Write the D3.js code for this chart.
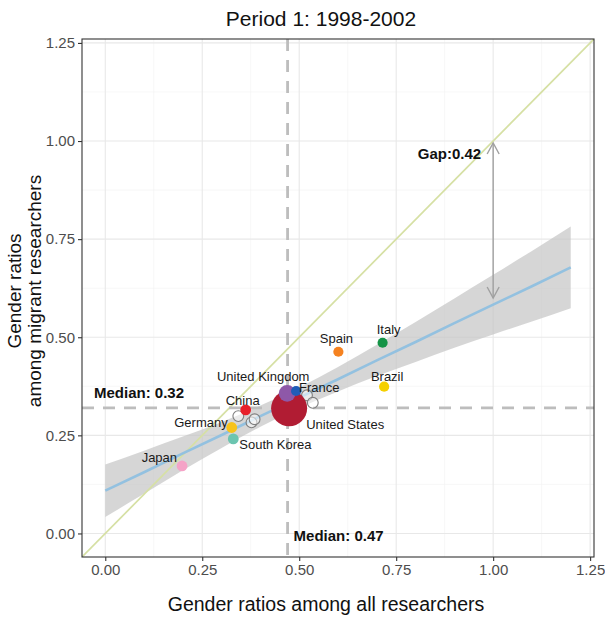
<!DOCTYPE html>
<html><head><meta charset="utf-8">
<script src="https://cdn.jsdelivr.net/npm/d3@7"></script>
<style>body{margin:0;background:#fff}svg{display:block}</style>
</head><body>
<svg id="chart" width="605" height="619"></svg>
<script>
// ---------- data ----------
const countries   = ["Japan","South Korea","Germany","China","United States","United Kingdom","France","Spain","Italy","Brazil"];
const ratioAll    = [0.198, 0.330, 0.326, 0.362, 0.474, 0.469, 0.492, 0.601, 0.715, 0.719];
const ratioMigr   = [0.172, 0.241, 0.270, 0.315, 0.319, 0.357, 0.363, 0.463, 0.486, 0.374];
const researchers = [9, 9, 9, 9, 100, 22, 8, 8, 8, 8];
const colors      = ["#f5a3c7","#6cc5b0","#f8c31a","#e8202a","#b11c33","#8e58a8","#1f5cb8","#f58220","#159447","#f5d000"];
// unlabelled countries (hollow)
const otherAll    = [0.343, 0.377, 0.385, 0.520, 0.535];
const otherMigr   = [0.299, 0.283, 0.291, 0.352, 0.333];
const otherSize   = [9, 9, 9, 9, 9];
// fitted line and 95% band
const fitX     = [0, 0.1, 0.2, 0.3, 0.4, 0.5, 0.6, 0.7, 0.8, 0.9, 1.0, 1.1, 1.2];
const fitY     = [0.109, 0.156, 0.204, 0.251, 0.299, 0.346, 0.393, 0.441, 0.488, 0.536, 0.583, 0.630, 0.678];
const fitLower = [0.042, 0.101, 0.161, 0.218, 0.272, 0.320, 0.362, 0.401, 0.437, 0.473, 0.507, 0.540, 0.574];
const fitUpper = [0.176, 0.211, 0.247, 0.284, 0.326, 0.372, 0.424, 0.481, 0.539, 0.599, 0.659, 0.720, 0.782];
const medianAll  = 0.47;
const medianMigr = 0.32;
const gapX = 1.0, gapTop = 0.995, gapBottom = 0.60, gapValue = 0.42;
const ticks = [0, 0.25, 0.5, 0.75, 1.0, 1.25];
const tickLabels = ["0.00","0.25","0.50","0.75","1.00","1.25"];
const minorTicks = [0.125, 0.375, 0.625, 0.875, 1.125];
const title = "Period 1: 1998-2002";
const xTitle = "Gender ratios among all researchers";
const yTitle = ["Gender ratios", "among migrant researchers"];

// ---------- label placement (style) ----------
const labelPos = {
  "Japan":[ "end",-5,-4], "South Korea":["start",6,10], "Germany":["end",-4,-1],
  "China":["middle",-3,-5], "United Kingdom":["middle",-24,-12], "France":["start",3,1],
  "United States":["start",17,21], "Spain":["middle",-2,-9], "Italy":["middle",6,-9],
  "Brazil":["middle",3,-6]
};

const FONT = "'Liberation Sans', Arial, sans-serif";
const svg = d3.select("#chart").style("font-family", FONT);
const L = 82, R = 594, T = 39, B = 557;
const x = d3.scaleLinear().domain([-0.06, 1.26]).range([L, R]);
const y = d3.scaleLinear().domain([-0.06, 1.26]).range([B, T]);
const rS = d3.scaleSqrt().domain([0, 100]).range([0, 18]);

svg.append("defs").append("clipPath").attr("id","clip")
  .append("rect").attr("x",L).attr("y",T).attr("width",R-L).attr("height",B-T);

// grid
const g = svg.append("g");
g.selectAll(".vmin").data(minorTicks).join("line")
  .attr("x1",d=>x(d)).attr("x2",d=>x(d)).attr("y1",T).attr("y2",B)
  .attr("stroke","#f1f1f1").attr("stroke-width",0.6);
g.selectAll(".hmin").data(minorTicks).join("line")
  .attr("y1",d=>y(d)).attr("y2",d=>y(d)).attr("x1",L).attr("x2",R)
  .attr("stroke","#f1f1f1").attr("stroke-width",0.6);
g.selectAll(".vmaj").data(ticks).join("line")
  .attr("x1",d=>x(d)).attr("x2",d=>x(d)).attr("y1",T).attr("y2",B)
  .attr("stroke","#e8e8e8").attr("stroke-width",1.1);
g.selectAll(".hmaj").data(ticks).join("line")
  .attr("y1",d=>y(d)).attr("y2",d=>y(d)).attr("x1",L).attr("x2",R)
  .attr("stroke","#e8e8e8").attr("stroke-width",1.1);

const p = svg.append("g").attr("clip-path","url(#clip)");
const fitData = fitX.map((d,i)=>({x:d, y:fitY[i], lo:fitLower[i], hi:fitUpper[i]}));

// band
p.append("path").datum(fitData)
  .attr("d", d3.area().x(d=>x(d.x)).y0(d=>y(d.lo)).y1(d=>y(d.hi)).curve(d3.curveMonotoneX))
  .attr("fill","#c4c4c4").attr("fill-opacity",0.7);
// diagonal
p.append("line").attr("x1",x(-0.06)).attr("y1",y(-0.06)).attr("x2",x(1.26)).attr("y2",y(1.26))
  .attr("stroke","#d6e0a4").attr("stroke-width",1.7);
// fit line
p.append("path").datum(fitData)
  .attr("d", d3.line().x(d=>x(d.x)).y(d=>y(d.y)))
  .attr("fill","none").attr("stroke","#93c1e0").attr("stroke-width",2.6);
// medians
p.append("line").attr("x1",x(medianAll)).attr("x2",x(medianAll)).attr("y1",T).attr("y2",B)
  .attr("stroke","#bdbdbd").attr("stroke-width",2.8).attr("stroke-dasharray","12,9");
p.append("line").attr("y1",y(medianMigr)).attr("y2",y(medianMigr)).attr("x1",L).attr("x2",R)
  .attr("stroke","#bdbdbd").attr("stroke-width",2.8).attr("stroke-dasharray","12,9");

// gap arrow
const ax = x(gapX), ay1 = y(gapTop), ay2 = y(gapBottom);
const ga = p.append("g").attr("stroke","#a0a0a0").attr("stroke-width",1.4).attr("fill","none");
ga.append("line").attr("x1",ax).attr("x2",ax).attr("y1",ay1).attr("y2",ay2);
ga.append("path").attr("d",`M${ax-6},${ay1+11}L${ax},${ay1}L${ax+6},${ay1+11}`);
ga.append("path").attr("d",`M${ax-6},${ay2-11}L${ax},${ay2}L${ax+6},${ay2-11}`);

// hollow points
p.selectAll(".other").data(otherAll.map((d,i)=>({x:d,y:otherMigr[i],s:otherSize[i]}))).join("circle")
  .attr("cx",d=>x(d.x)).attr("cy",d=>y(d.y)).attr("r",d=>rS(d.s))
  .attr("fill","#fff").attr("fill-opacity",0.5).attr("stroke","#7f7f7f").attr("stroke-width",1.1);

// country points
const pts = countries.map((c,i)=>({c, x:ratioAll[i], y:ratioMigr[i], s:researchers[i], col:colors[i]}));
p.selectAll(".pt").data(pts).join("circle")
  .attr("cx",d=>x(d.x)).attr("cy",d=>y(d.y)).attr("r",d=>rS(d.s)).attr("fill",d=>d.col);

// country labels
svg.selectAll(".lab").data(pts).join("text")
  .attr("x",d=>x(d.x)+labelPos[d.c][1]).attr("y",d=>y(d.y)+labelPos[d.c][2])
  .attr("text-anchor",d=>labelPos[d.c][0]).attr("font-size",13).attr("fill","#1a1a1a")
  .text(d=>d.c);

// annotations
svg.append("text").attr("x",x(-0.029)).attr("y",y(medianMigr)-10)
  .attr("font-size",15).attr("font-weight","bold").attr("fill","#111")
  .text("Median: " + medianMigr.toFixed(2));
svg.append("text").attr("x",x(medianAll)+6).attr("y",B-16)
  .attr("font-size",15).attr("font-weight","bold").attr("fill","#111")
  .text("Median: " + medianAll.toFixed(2));
svg.append("text").attr("x",ax-12).attr("y",y(gapTop)+16).attr("text-anchor","end")
  .attr("font-size",15).attr("font-weight","bold").attr("fill","#111")
  .text("Gap:" + gapValue.toFixed(2));

// border
svg.append("rect").attr("x",L).attr("y",T).attr("width",R-L).attr("height",B-T)
  .attr("fill","none").attr("stroke","#333").attr("stroke-width",1.1);

// axes
const xAxis = svg.append("g").attr("transform",`translate(0,${B})`)
  .call(d3.axisBottom(x).tickValues(ticks).tickFormat((d,i)=>tickLabels[i]).tickSize(4).tickPadding(3));
const yAxis = svg.append("g").attr("transform",`translate(${L},0)`)
  .call(d3.axisLeft(y).tickValues(ticks).tickFormat((d,i)=>tickLabels[i]).tickSize(4).tickPadding(3));
[xAxis, yAxis].forEach(a=>{
  a.select(".domain").remove();
  a.selectAll(".tick line").attr("stroke","#333").attr("stroke-width",1.1);
  a.selectAll(".tick text").attr("fill","#4d4d4d").attr("font-size",15).attr("font-family",FONT);
});

// titles
svg.append("text").attr("x",321).attr("y",26).attr("text-anchor","middle")
  .attr("font-size",21).attr("fill","#111").text(title);
svg.append("text").attr("x",326).attr("y",611).attr("text-anchor","middle")
  .attr("font-size",19.5).attr("fill","#111").text(xTitle);
const yt = svg.append("text").attr("transform",`translate(0,291) rotate(-90)`)
  .attr("text-anchor","middle").attr("font-size",19).attr("fill","#111");
yt.append("tspan").attr("x",0).attr("y",21).text(yTitle[0]);
yt.append("tspan").attr("x",0).attr("y",41).text(yTitle[1]);
</script>
</body></html>
